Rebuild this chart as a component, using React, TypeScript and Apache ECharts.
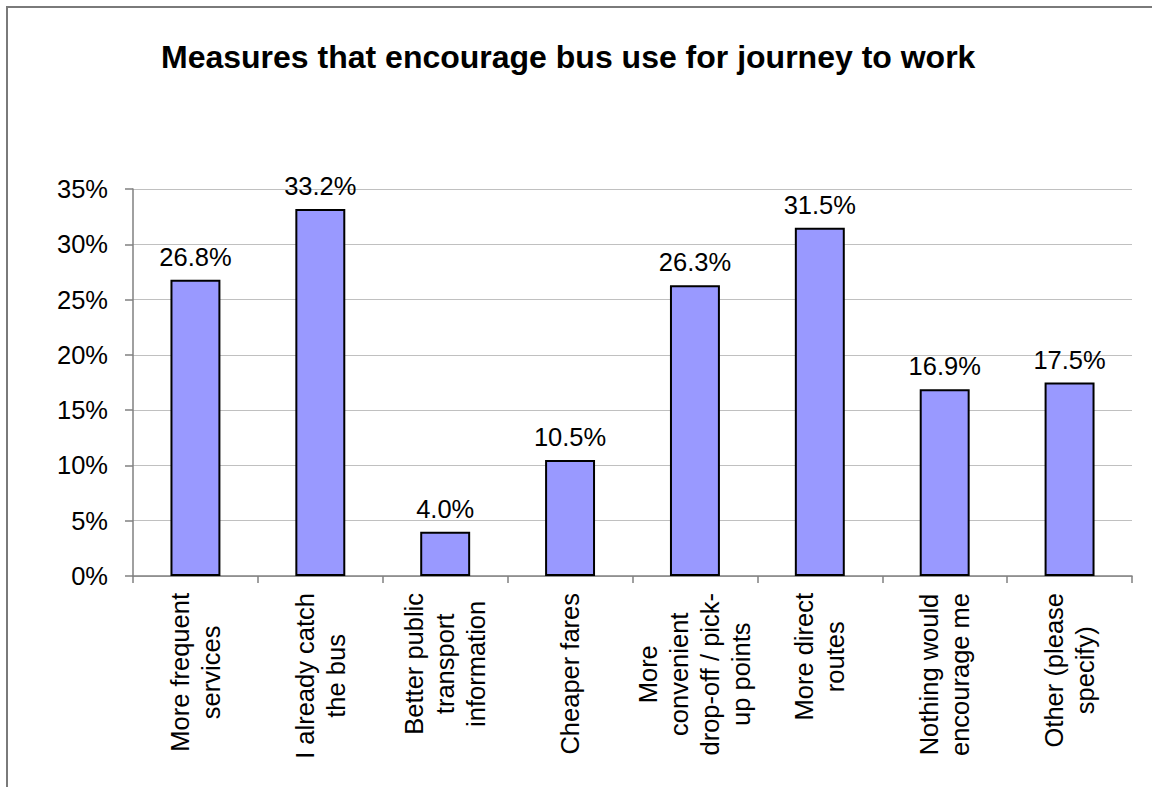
import React, { useEffect, useRef } from "react";
import * as echarts from "echarts";

const TITLE = "Measures that encourage bus use for journey to work";
const categories: string[][] = [
  ["More frequent", "services"],
  ["I already catch", "the bus"],
  ["Better public", "transport", "information"],
  ["Cheaper fares"],
  ["More", "convenient", "drop-off / pick-", "up points"],
  ["More direct", "routes"],
  ["Nothing would", "encourage me"],
  ["Other (please", "specify)"],
];
const values: number[] = [26.8, 33.2, 4.0, 10.5, 26.3, 31.5, 16.9, 17.5];
const yTicks = { min: 0, max: 35, interval: 5 };

const FONT = "'Liberation Sans', Arial, Helvetica, sans-serif";

export default function App() {
  const ref = useRef<HTMLDivElement>(null);
  useEffect(() => {
    if (!ref.current) return;
    const chart = echarts.init(ref.current, null, { renderer: "svg" });
    chart.setOption({
      animation: false,
      backgroundColor: "#ffffff",
      title: {
        text: TITLE,
        left: 156,
        top: 36,
        textStyle: { fontFamily: FONT, fontSize: 32, fontWeight: "bold", color: "#000" },
      },
      graphic: [
        {
          type: "rect",
          shape: { x: 7, y: 7, width: 1400, height: 1000 },
          style: { fill: "none", stroke: "#7a7a7a", lineWidth: 2 },
          silent: true,
        },
      ],
      grid: { left: 133, right: 20, top: 189, bottom: 211, containLabel: false },
      xAxis: {
        type: "category",
        data: categories.map((c) => c.join("\n")),
        boundaryGap: true,
        axisLine: { show: true, lineStyle: { color: "#808080", width: 1.5 } },
        axisTick: { show: true, length: 7, lineStyle: { color: "#808080", width: 1.5 } },
        axisLabel: {
          rotate: 90,
          interval: 0,
          margin: 17,
          formatter: (v: string) => v.split("\n").map((l) => `{c|${l}}`).join("\n"),
          rich: {
            c: { align: "center", fontFamily: FONT, fontSize: 25.5, lineHeight: 31, color: "#000" },
          },
        },
      },
      yAxis: {
        type: "value",
        min: yTicks.min,
        max: yTicks.max,
        interval: yTicks.interval,
        axisLine: { show: true, lineStyle: { color: "#808080", width: 1.5 } },
        axisTick: { show: true, length: 8, lineStyle: { color: "#808080", width: 1.5 } },
        splitLine: { show: true, lineStyle: { color: "#c0c0c0", width: 1.2 } },
        axisLabel: {
          margin: 25,
          formatter: "{value}%",
          fontFamily: FONT,
          fontSize: 25.5,
          color: "#000",
        },
      },
      series: [
        {
          type: "bar",
          data: values,
          barWidth: "40%",
          itemStyle: { color: "#9999ff", borderColor: "#000", borderWidth: 2 },
          label: {
            show: true,
            position: "top",
            distance: 10,
            formatter: (p: any) => `${Number(p.value).toFixed(1)}%`,
            fontFamily: FONT,
            fontSize: 25.5,
            color: "#000",
          },
        },
      ],
    });
    return () => chart.dispose();
  }, []);
  return (
    <div
      ref={ref}
      style={{ position: "absolute", left: 0, top: 0, width: 1152, height: 787 }}
    />
  );
}
